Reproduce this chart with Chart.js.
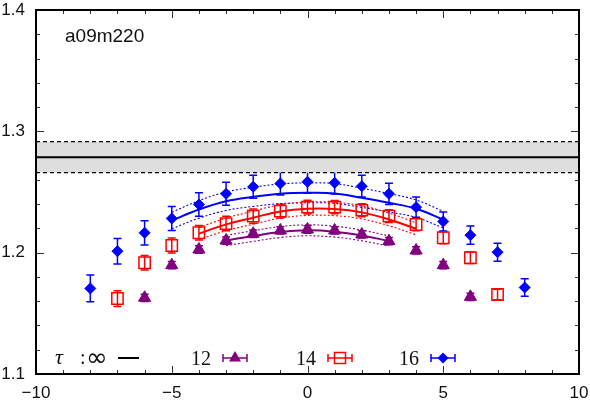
<!DOCTYPE html>
<html>
<head>
<meta charset="utf-8">
<script src="https://cdn.jsdelivr.net/npm/chart.js@4.4.1/dist/chart.umd.min.js"></script>
<style>
  html, body { margin: 0; padding: 0; background: #fff; }
</style>
</head>
<body>
<canvas id="chart" width="590" height="400"></canvas>
<script>
// data points per source-sink separation tau
const x12 = [-6, -5, -4, -3, -2, -1, 0, 1, 2, 3, 4, 5, 6];
const y12 = [1.1628, 1.1897, 1.2026, 1.2100, 1.2156, 1.2183, 1.2191, 1.2183, 1.2150, 1.2095, 1.2018, 1.1897, 1.1636];
const e12 = [0.003, 0.003, 0.003, 0.003, 0.003, 0.003, 0.003, 0.003, 0.003, 0.003, 0.003, 0.003, 0.003];

const x14 = [-7, -6, -5, -4, -3, -2, -1, 0, 1, 2, 3, 4, 5, 6, 7];
const y14 = [1.1622, 1.1917, 1.2059, 1.2164, 1.2240, 1.2301, 1.2342, 1.2375, 1.2375, 1.2350, 1.2301, 1.2232, 1.2123, 1.1958, 1.1655];
const e14 = [0.0065, 0.006, 0.0062, 0.006, 0.006, 0.0058, 0.0057, 0.0056, 0.0055, 0.0054, 0.0053, 0.0052, 0.005, 0.0047, 0.0044];

const x16 = [-8, -7, -6, -5, -4, -3, -2, -1, 0, 1, 2, 3, 4, 5, 6, 7, 8];
const y16 = [1.1705, 1.2012, 1.2164, 1.2282, 1.2397, 1.2485, 1.2543, 1.2570, 1.2584, 1.2576, 1.2548, 1.2485, 1.2375, 1.2257, 1.2144, 1.2004, 1.1713];
const e16 = [0.011, 0.0105, 0.010, 0.0099, 0.0096, 0.0095, 0.0095, 0.0095, 0.0095, 0.0093, 0.009, 0.0088, 0.0083, 0.0078, 0.0075, 0.0074, 0.0073];

// fit curves (central value and half width of error band)
const fx12 = [-3, -2, -1, 0, 1, 2, 3];
const fy12 = [1.2100, 1.2137, 1.2170, 1.2184, 1.2173, 1.2142, 1.2096];
const fe12 = [0.0042, 0.0044, 0.0045, 0.0045, 0.0045, 0.0044, 0.0042];

const fx14 = [-4, -3, -2, -1, 0, 1, 2, 3, 4];
const fy14 = [1.2157, 1.2233, 1.2288, 1.2340, 1.2362, 1.2360, 1.2332, 1.2274, 1.2197];
const fe14 = [0.0050, 0.0052, 0.0054, 0.0055, 0.0055, 0.0055, 0.0054, 0.0052, 0.0050];

const fx16 = [-5, -4, -3, -2, -1, 0, 1, 2, 3, 4, 5];
const fy16 = [1.2265, 1.2356, 1.2424, 1.2460, 1.2485, 1.2493, 1.2488, 1.2452, 1.2411, 1.2362, 1.2273];
const fe16 = [0.0068, 0.0072, 0.0076, 0.0079, 0.0081, 0.0082, 0.0081, 0.0079, 0.0076, 0.0072, 0.0068];

// tau -> infinity result
const infX = [-10, 10];
const infVal = 1.2787;
const infErr = 0.0128;

const PURPLE = '#800080';
const RED = '#ff0000';
const BLUE = '#0000ff';

const series = [
  { label: '12', xs: x12, ys: y12, errs: e12, color: PURPLE },
  { label: '14', xs: x14, ys: y14, errs: e14, color: RED },
  { label: '16', xs: x16, ys: y16, errs: e16, color: BLUE },
];

const pts = (xs, ys) => xs.map((x, i) => ({ x: x, y: ys[i] }));
const shift = (ys, es, s) => ys.map((y, i) => y + s * es[i]);

function fitSets(xs, ys, es, color) {
  return [
    { data: pts(xs, ys), borderColor: color, borderWidth: 2, showLine: true, pointRadius: 0, tension: 0.4 },
    { data: pts(xs, shift(ys, es, 1)), borderColor: color, borderWidth: 1.1, borderDash: [2, 2], showLine: true, pointRadius: 0, tension: 0.4 },
    { data: pts(xs, shift(ys, es, -1)), borderColor: color, borderWidth: 1.1, borderDash: [2, 2], showLine: true, pointRadius: 0, tension: 0.4 },
  ];
}

const datasets = [
  { data: pts(x12, y12), pointStyle: 'triangle', pointRadius: 7, backgroundColor: PURPLE, borderColor: PURPLE, borderWidth: 1 },
  { data: pts(x14, y14), pointStyle: 'rect', pointRadius: 8, backgroundColor: 'rgba(0,0,0,0)', borderColor: RED, borderWidth: 1.5 },
  { data: pts(x16, y16), pointStyle: 'rectRot', pointRadius: 5.5, backgroundColor: BLUE, borderColor: BLUE, borderWidth: 1 },
  ...fitSets(fx12, fy12, fe12, PURPLE),
  ...fitSets(fx14, fy14, fe14, RED),
  ...fitSets(fx16, fy16, fe16, BLUE),
  { data: infX.map(x => ({ x: x, y: infVal })), borderColor: '#000', borderWidth: 2, showLine: true, pointRadius: 0 },
  { data: infX.map(x => ({ x: x, y: infVal - infErr })), borderColor: '#000', borderWidth: 1.2, borderDash: [4, 3], showLine: true, pointRadius: 0 },
  { data: infX.map(x => ({ x: x, y: infVal + infErr })), borderColor: '#000', borderWidth: 1.2, borderDash: [4, 3], showLine: true, pointRadius: 0,
    fill: '-1', backgroundColor: '#dedede' },
];

const errorBars = {
  id: 'errorBars',
  beforeDatasetsDraw(chart) {
    const { ctx, scales: { x, y } } = chart;
    series.forEach(s => {
      ctx.save();
      ctx.strokeStyle = s.color;
      ctx.lineWidth = 1.5;
      s.xs.forEach((xv, i) => {
        const px = x.getPixelForValue(xv);
        const top = y.getPixelForValue(s.ys[i] + s.errs[i]);
        const bot = y.getPixelForValue(s.ys[i] - s.errs[i]);
        ctx.beginPath();
        ctx.moveTo(px, top); ctx.lineTo(px, bot);
        ctx.moveTo(px - 4, top); ctx.lineTo(px + 4, top);
        ctx.moveTo(px - 4, bot); ctx.lineTo(px + 4, bot);
        ctx.stroke();
      });
      ctx.restore();
    });
  }
};

function marker(ctx, style, cx, cy, color) {
  ctx.fillStyle = color;
  ctx.strokeStyle = color;
  ctx.beginPath();
  if (style === 'triangle') {
    ctx.moveTo(cx, cy - 7); ctx.lineTo(cx + 6, cy + 3.5); ctx.lineTo(cx - 6, cy + 3.5); ctx.closePath(); ctx.fill();
  } else if (style === 'rect') {
    ctx.lineWidth = 1.5; ctx.rect(cx - 5.5, cy - 5.5, 11, 11); ctx.stroke();
  } else {
    ctx.moveTo(cx, cy - 5.5); ctx.lineTo(cx + 5.5, cy); ctx.lineTo(cx, cy + 5.5); ctx.lineTo(cx - 5.5, cy); ctx.closePath(); ctx.fill();
  }
}

const frame = {
  id: 'frame',
  afterDraw(chart) {
    const { ctx, chartArea: a, scales: { x, y } } = chart;
    ctx.save();
    ctx.strokeStyle = '#333';
    ctx.lineWidth = 1;
    ctx.beginPath();
    x.ticks.forEach(t => {
      const px = Math.round(x.getPixelForValue(t.value)) + 0.5;
      const len = t.value % 5 === 0 ? 8 : 4;
      ctx.moveTo(px, a.bottom); ctx.lineTo(px, a.bottom - len);
      ctx.moveTo(px, a.top); ctx.lineTo(px, a.top + len);
    });
    y.ticks.forEach(t => {
      const py = Math.round(y.getPixelForValue(t.value)) + 0.5;
      const major = Math.abs(t.value * 10 - Math.round(t.value * 10)) < 1e-6;
      const len = major ? 8 : 4;
      ctx.moveTo(a.left, py); ctx.lineTo(a.left + len, py);
      ctx.moveTo(a.right, py); ctx.lineTo(a.right - len, py);
    });
    ctx.stroke();

    ctx.strokeStyle = '#000';
    ctx.lineWidth = 2;
    ctx.strokeRect(a.left, a.top, a.right - a.left, a.bottom - a.top);

    // ensemble label
    ctx.fillStyle = '#111';
    ctx.font = '19px "Liberation Sans", Arial, sans-serif';
    ctx.textBaseline = 'alphabetic';
    ctx.textAlign = 'left';
    ctx.fillText('a09m220', 65, 42);

    // key
    const ly = 358;
    ctx.font = 'italic 22px "Liberation Serif", serif';
    ctx.fillText('\u03c4', 55, ly + 6);
    ctx.font = '20px "Liberation Serif", serif';
    ctx.fillText(':', 80, ly + 6);
    ctx.font = '26px "DejaVu Sans", sans-serif';
    ctx.fillText('\u221e', 86, ly + 8);
    ctx.lineWidth = 2;
    ctx.beginPath(); ctx.moveTo(118, ly); ctx.lineTo(139, ly); ctx.stroke();

    const keys = [
      { text: '12', right: 211, cx: 235, style: 'triangle', color: PURPLE },
      { text: '14', right: 316, cx: 340, style: 'rect', color: RED },
      { text: '16', right: 419, cx: 443, style: 'rectRot', color: BLUE },
    ];
    keys.forEach(k => {
      ctx.fillStyle = '#111';
      ctx.font = '20px "Liberation Serif", serif';
      ctx.textAlign = 'right';
      ctx.fillText(k.text, k.right, ly + 7);
      ctx.strokeStyle = k.color;
      ctx.lineWidth = 1.5;
      ctx.beginPath();
      ctx.moveTo(k.cx - 12, ly); ctx.lineTo(k.cx + 12, ly);
      ctx.moveTo(k.cx - 12, ly - 4); ctx.lineTo(k.cx - 12, ly + 4);
      ctx.moveTo(k.cx + 12, ly - 4); ctx.lineTo(k.cx + 12, ly + 4);
      ctx.stroke();
      marker(ctx, k.style, k.cx, ly, k.color);
    });
    ctx.restore();
  }
};

new Chart(document.getElementById('chart'), {
  type: 'scatter',
  data: { datasets: datasets },
  options: {
    responsive: false,
    animation: false,
    layout: { padding: { top: 10, right: 11, left: 0, bottom: 0 } },
    plugins: { legend: { display: false }, tooltip: { enabled: false } },
    scales: {
      x: {
        type: 'linear', min: -10, max: 10,
        grid: { display: false, drawTicks: false },
        border: { display: false },
        ticks: {
          stepSize: 1, autoSkip: false, maxRotation: 0, padding: 9,
          color: '#111', font: { family: '"Liberation Sans", Arial, sans-serif', size: 17 },
          callback: v => (v % 5 === 0 ? String(v).replace('-', '\u2212') : '')
        },
        afterFit: s => { s.height = 26; s.paddingLeft = 0; s.paddingRight = 0; }
      },
      y: {
        type: 'linear', min: 1.1, max: 1.4,
        grid: { display: false, drawTicks: false },
        border: { display: false },
        ticks: {
          stepSize: 0.02, autoSkip: false, padding: 11,
          color: '#111', font: { family: '"Liberation Sans", Arial, sans-serif', size: 17 },
          callback: v => (Math.abs(v * 10 - Math.round(v * 10)) < 1e-6 ? v.toFixed(1) : '')
        },
        afterFit: s => { s.width = 36; s.paddingTop = 0; s.paddingBottom = 0; }
      }
    }
  },
  plugins: [errorBars, frame]
});
</script>
</body>
</html>
